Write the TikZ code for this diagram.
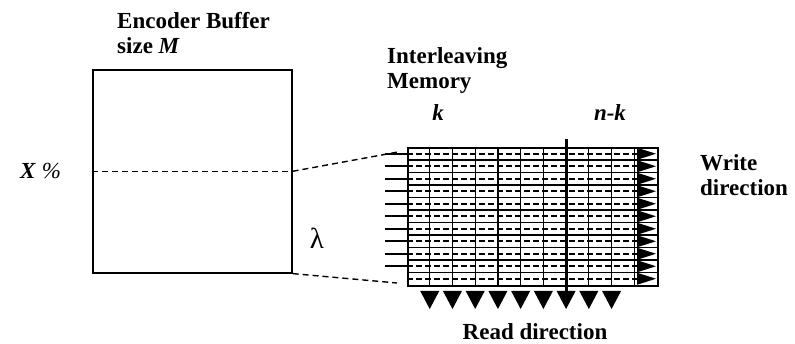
\documentclass[tikz,border=0pt]{standalone}
\usepackage{fontspec}
\setmainfont{Liberation Serif}
\usepackage{tikz}
\usetikzlibrary{calc,positioning}
\definecolor{inkblack}{HTML}{000000}
\tikzset{
  caption/.style={font=\fontsize{23}{25.5}\selectfont\bfseries,inner sep=0pt,align=left},
  symbol/.style={font=\fontsize{23}{25}\selectfont,inner sep=0pt},
  buffer/.style={draw=inkblack,line width=1.6pt,inner sep=0pt},
  cellline/.style={inkblack,line width=1.3pt},
  writeline/.style={inkblack,line width=1.6pt,dash pattern=on 6pt off 3pt},
  feedline/.style={inkblack,line width=1.6pt},
  link/.style={inkblack,line width=1.4pt,dash pattern=on 6pt off 4pt},
  tipfill/.style={fill=inkblack}
}

\begin{document}
\begin{tikzpicture}[x=1pt,y=-1pt]
\useasboundingbox (0,0) rectangle (795,344);
% encoder buffer
\node[buffer,minimum width=199pt,minimum height=203pt,anchor=north west] (buffer) at (92,69) {};
\draw[link] (buffer.west) -- (buffer.east);
\node[caption,anchor=base west] (enctitle) at (117,54) {Encoder Buffer\\size \textit{M}};
\node[symbol,anchor=base west] (xpct) at (20,179) {\textbf{\textit{X}} \textit{\%}};
\node[symbol,font=\fontsize{29}{30}\selectfont] (lambda) at (317,238) {λ};
% interleaving memory
\node[buffer,minimum width=250pt,minimum height=137.5pt,anchor=north west] (memory) at (407,147.5) {};
\node[caption,anchor=base west] (memtitle) at (387,89) {Interleaving\\Memory};
\node[caption,anchor=base] (kcols) at (438,121) {\textit{k}};
\node[caption,anchor=base] (nkcols) at (610,121) {\textit{n-k}};
\foreach \i in {1,...,10}
  \draw[cellline] (407+\i*22.73,147.5) -- (407+\i*22.73,285);
\foreach \j in {1,...,10}
  \draw[cellline] (407,147.5+\j*12.5) -- (657,147.5+\j*12.5);
\foreach \j in {0,...,10} {
  \draw[writeline] (407,153.75+\j*12.5) -- (637,153.75+\j*12.5);
  \fill[tipfill] (637,147.7+\j*12.5) -- (656,153.75+\j*12.5) -- (637,159.8+\j*12.5) -- cycle;
}
\foreach \j in {0,...,9}
  \draw[feedline] (385,153.75+\j*12.5) -- (407,153.75+\j*12.5);
\draw[inkblack,line width=3pt] (566,139) -- (566,291);
% read arrows
\foreach \i in {1,...,9}
  \fill[tipfill] (407+\i*22.73-9.5,291) -- (407+\i*22.73+9.5,291) -- (407+\i*22.73,309) -- cycle;
\coordinate (topend) at (398,152);
\coordinate (botend) at (397,283);
\draw[link] (buffer.east) -- (topend);
\draw[link] (buffer.south east) -- (botend);
\node[caption,anchor=base west] (writelabel) at (700,196) {Write\\direction};
\node[caption,anchor=base] (readlabel) at (535,340) {Read direction};
\end{tikzpicture}
\end{document}
